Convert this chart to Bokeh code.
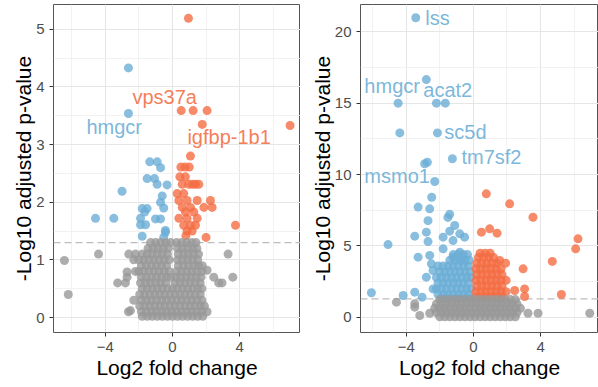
from bokeh.plotting import figure
from bokeh.layouts import row
from bokeh.models import Range1d, SingleIntervalTicker, Span
from bokeh.core.properties import value
from bokeh.embed import file_html
from bokeh.resources import INLINE

# ---------------- Left panel data ----------------
blue_L_x = [-2.62, -2.62, -1.35, -0.91, -0.71, -1.51, -1.07, -0.91, -0.32, -3.00, -0.61, -0.71, -1.80,
            -1.51, -0.52, -1.65, -4.58, -3.49, -1.90, -1.01, -0.71, -1.90, -1.60, -0.42, -1.80, -0.42, -0.52]
blue_L_y = [4.33, 3.54, 2.70, 2.70, 2.60, 2.41, 2.41, 2.31, 2.30, 2.19, 2.11, 2.00, 1.89,
            1.89, 1.90, 1.83, 1.72, 1.72, 1.72, 1.71, 1.71, 1.61, 1.61, 1.51, 1.41, 1.48, 1.39]

orange_L_x = [0.95, 0.52, 1.23, 2.06, 1.77, 7.00, 1.07, 0.50, 0.75, 1.00, 0.44, 0.77, 0.58, 0.97, 1.19,
              1.37, 1.57, 0.28, 0.67, 0.38, 0.87, 1.47, 2.26, 0.58, 1.07, 1.87, 2.36, 0.77, 1.27, 0.38,
              0.87, 1.47, 0.67, 1.07, 1.37, 3.75, 0.87, 1.17, 0.80, 2.00]
orange_L_y = [5.19, 3.59, 3.59, 3.59, 3.35, 3.33, 2.80, 2.61, 2.61, 2.61, 2.44, 2.44, 2.31, 2.31, 2.31,
              2.31, 2.31, 2.15, 2.15, 2.03, 2.03, 2.03, 2.03, 1.91, 1.91, 1.91, 1.91, 1.83, 1.83, 1.72,
              1.72, 1.72, 1.60, 1.60, 1.60, 1.60, 1.50, 1.50, 1.42, 1.39]

grey_L_out_x = [-6.43, -6.20, -4.40, -2.60, -2.20, -2.62, -3.26, -2.80, -2.70, -2.70, -2.30, -2.30, -2.20,
                3.31, 3.59, 2.75, 2.95, 2.46, 2.06, 1.77, 2.06, -2.50]
grey_L_out_y = [0.99, 0.40, 1.10, 1.10, 1.10, 0.10, 0.60, 0.60, 0.70, 0.79, 0.30, 1.00, 0.80,
                1.10, 0.70, 0.60, 0.60, 0.70, 0.82, 0.90, 0.10, 0.12]

# dense non-significant cloud, read row by row: (y, [x values])
grey_L_rows = [
    (1.30, [-1.30, -1.00, -0.70, -0.40, -0.10, 0.25, 0.55, 0.85, 1.15, 1.40]),
    (1.20, [-1.45, -1.15, -0.85, -0.55, -0.25, 0.30, 0.60, 0.90, 1.20, 1.45]),
    (1.10, [-1.80, -1.50, -1.20, -0.90, -0.60, -0.30, 0.35, 0.65, 0.95, 1.25, 1.55]),
    (1.00, [-2.00, -1.70, -1.40, -1.10, -0.80, -0.50, -0.20, 0.30, 0.60, 0.90, 1.20, 1.50]),
    (0.90, [-1.85, -1.55, -1.25, -0.95, -0.65, -0.35, 0.35, 0.65, 0.95, 1.25, 1.55]),
    (0.80, [-2.00, -1.70, -1.40, -1.10, -0.80, -0.50, -0.20, 0.25, 0.55, 0.85, 1.15, 1.45, 1.75]),
    (0.70, [-1.85, -1.55, -1.25, -0.95, -0.65, -0.35, -0.10, 0.20, 0.50, 0.80, 1.10, 1.40, 1.70]),
    (0.60, [-1.90, -1.60, -1.30, -1.00, -0.70, -0.40, 0.15, 0.45, 0.75, 1.05, 1.35, 1.65]),
    (0.50, [-1.80, -1.50, -1.20, -0.90, -0.60, -0.30, 0.00, 0.30, 0.60, 0.90, 1.20, 1.50, 1.75]),
    (0.40, [-1.95, -1.65, -1.35, -1.05, -0.75, -0.45, -0.15, 0.15, 0.45, 0.75, 1.05, 1.35, 1.65]),
    (0.30, [-1.85, -1.55, -1.25, -0.95, -0.65, -0.35, -0.05, 0.25, 0.55, 0.85, 1.15, 1.45, 1.75]),
    (0.20, [-1.95, -1.65, -1.35, -1.05, -0.75, -0.45, -0.15, 0.15, 0.45, 0.75, 1.05, 1.35, 1.65, 1.90]),
    (0.10, [-1.85, -1.55, -1.25, -0.95, -0.65, -0.35, -0.05, 0.25, 0.55, 0.85, 1.15, 1.45, 1.75]),
    (0.02, [-1.80, -1.50, -1.20, -0.90, -0.60, -0.30, 0.00, 0.30, 0.60, 0.90, 1.20, 1.50, 1.80]),
]

labels_L = ["vps37a", "hmgcr", "igfbp-1b1"]
labels_L_x = [-2.38, -5.12, 0.89]
labels_L_y = [3.82, 3.30, 3.13]
labels_L_col = ["#f46d43", "#6baed6", "#f46d43"]

# ---------------- Right panel data ----------------
blue_R_x = [-3.43, -2.80, -4.48, -2.20, -1.67, -4.38, -2.14, -1.25, -2.90, -2.74, -2.30, -2.48, -3.29,
            -2.60, -1.41, -1.52, -2.70, -1.11, -3.49, -2.80, -2.70, -5.08, -1.80, -1.41, -1.21, -0.81,
            -0.52, -1.80, -3.29, -2.60, -2.50, -0.81, -1.21, -0.71, -2.80, -2.40, -3.49, -4.18, -3.05,
            -6.07, -2.40]
blue_R_y = [20.96, 16.64, 14.99, 14.99, 14.99, 12.91, 12.91, 11.10, 10.75, 10.86, 9.51, 8.41, 7.72,
            7.60, 7.22, 7.00, 6.77, 6.43, 5.69, 5.97, 5.31, 5.10, 5.62, 6.04, 5.38, 5.85,
            5.62, 4.80, 4.22, 4.34, 3.75, 4.57, 4.22, 3.99, 2.82, 3.29, 1.77, 1.54, 1.42,
            1.73, 2.00]

blue_R_rows = [
    (4.40, [-1.20, -0.90, -0.60, -0.35]),
    (4.00, [-1.40, -1.10, -0.80, -0.50, -0.25]),
    (3.60, [-2.10, -1.80, -1.50, -1.20, -0.90, -0.60, -0.30]),
    (3.20, [-2.00, -1.70, -1.40, -1.10, -0.80, -0.50, -0.20]),
    (2.80, [-2.20, -1.90, -1.60, -1.30, -1.00, -0.70, -0.40, -0.15]),
    (2.40, [-2.10, -1.80, -1.50, -1.20, -0.90, -0.60, -0.30]),
    (2.00, [-2.20, -1.90, -1.60, -1.30, -1.00, -0.70, -0.40, -0.15]),
    (1.60, [-2.10, -1.80, -1.50, -1.20, -0.90, -0.60, -0.30]),
    (1.35, [-1.90, -1.60, -1.30, -1.00, -0.70, -0.40, -0.15]),
]

orange_R_x = [0.77, 2.16, 3.55, 0.48, 0.97, 1.41, 6.23, 6.09, 4.70, 2.96, 5.24, 3.05, 3.05, 2.46, 1.57, 1.92]
orange_R_y = [8.65, 7.95, 7.01, 5.97, 6.20, 5.90, 5.50, 4.80, 3.92, 3.40, 1.61, 2.00, 1.47, 1.89, 3.99, 3.80]

orange_R_rows = [
    (4.50, [0.40, 0.70, 1.00]),
    (4.20, [0.30, 0.60, 0.90, 1.20]),
    (3.80, [0.20, 0.50, 0.80, 1.10, 1.40]),
    (3.40, [0.15, 0.45, 0.75, 1.05, 1.35, 1.65]),
    (3.00, [0.20, 0.50, 0.80, 1.10, 1.40, 1.70]),
    (2.60, [0.15, 0.45, 0.75, 1.05, 1.35, 1.65, 1.95]),
    (2.20, [0.20, 0.50, 0.80, 1.10, 1.40, 1.70]),
    (1.80, [0.15, 0.45, 0.75, 1.05, 1.35, 1.65, 1.95]),
    (1.45, [0.20, 0.50, 0.80, 1.10, 1.40, 1.70]),
]

grey_R_out_x = [-4.58, -3.49, -3.49, -3.19, -2.60, 3.25, 3.85, 6.93]
grey_R_out_y = [1.07, 0.96, 0.72, 0.14, 0.30, 0.30, 0.30, 0.30]

grey_R_rows = [
    (1.25, [-2.0, -1.7, -1.4, -1.1, -0.8, -0.5, -0.2, 0.1, 0.4, 0.7, 1.0, 1.3, 1.6, 1.9, 2.2, 2.5]),
    (0.95, [-2.2, -1.9, -1.6, -1.3, -1.0, -0.7, -0.4, -0.1, 0.2, 0.5, 0.8, 1.1, 1.4, 1.7, 2.0, 2.3, 2.6]),
    (0.65, [-2.3, -2.0, -1.7, -1.4, -1.1, -0.8, -0.5, -0.2, 0.1, 0.4, 0.7, 1.0, 1.3, 1.6, 1.9, 2.2, 2.5, 2.8]),
    (0.35, [-2.2, -1.9, -1.6, -1.3, -1.0, -0.7, -0.4, -0.1, 0.2, 0.5, 0.8, 1.1, 1.4, 1.7, 2.0, 2.3, 2.6]),
    (0.05, [-2.0, -1.7, -1.4, -1.1, -0.8, -0.5, -0.2, 0.1, 0.4, 0.7, 1.0, 1.3, 1.6, 1.9, 2.2, 2.5]),
]

labels_R = ["lss", "hmgcr", "acat2", "sc5d", "tm7sf2", "msmo1"]
labels_R_x = [-2.86, -6.49, -2.98, -1.73, -0.71, -6.49]
labels_R_y = [20.95, 16.2, 15.9, 13.0, 11.2, 9.9]
labels_R_col = ["#6baed6"] * 6

threshold = 1.30  # -log10(0.05)

BLUE = "#6baed6"
ORANGE = "#f46d43"
GREY = "#999999"
FONT = "Liberation Sans"
HEIGHT = 387


def flatten(rows):
    xs, ys = [], []
    for yv, xl in rows:
        for xv in xl:
            xs.append(xv)
            ys.append(yv)
    return xs, ys


def make_fig(width, xr, yr, y_interval, border_left):
    p = figure(width=width, height=HEIGHT, x_range=Range1d(*xr), y_range=Range1d(*yr),
               output_backend="svg", toolbar_location=None,
               min_border_left=border_left, min_border_right=0, min_border_top=4,
               min_border_bottom=55, background_fill_color="white", border_fill_color="white")
    p.xaxis.ticker = SingleIntervalTicker(interval=4, num_minor_ticks=2)
    p.yaxis.ticker = SingleIntervalTicker(interval=y_interval, num_minor_ticks=2)
    p.xgrid.ticker = p.xaxis[0].ticker
    p.ygrid.ticker = p.yaxis[0].ticker
    for g in (p.xgrid[0], p.ygrid[0]):
        g.grid_line_color = "#e6e6e6"
        g.grid_line_width = 1.1
        g.minor_grid_line_color = "#efefef"
        g.minor_grid_line_width = 0.8
    for ax in (p.xaxis[0], p.yaxis[0]):
        ax.axis_line_color = None
        ax.major_tick_line_color = "#333333"
        ax.major_tick_out = 4
        ax.major_tick_in = 0
        ax.minor_tick_line_color = None
        ax.major_label_text_font = FONT
        ax.major_label_text_font_size = "15px"
        ax.major_label_text_color = "#4d4d4d"
        ax.axis_label_text_font = FONT
        ax.axis_label_text_font_size = "21px"
        ax.axis_label_text_font_style = "normal"
        ax.axis_label_text_color = "#000000"
    p.xaxis.major_label_standoff = 5
    p.xaxis.axis_label_standoff = 1
    p.yaxis.major_label_standoff = 5
    p.yaxis.axis_label_standoff = -2
    p.xaxis.axis_label = "Log2 fold change"
    p.yaxis.axis_label = "-Log10 adjusted p-value"
    p.outline_line_color = "#555555"
    p.outline_line_width = 1
    p.add_layout(Span(location=threshold, dimension="width", line_color="#bdbdbd",
                      line_dash="7 4", line_width=1.2, level="underlay"))
    return p


def draw(p, bx, by, ox, oy, gx, gy, labels, lx, ly, lc):
    p.scatter(bx, by, size=9, fill_color=BLUE, fill_alpha=0.8, line_color=None)
    p.scatter(ox, oy, size=9, fill_color=ORANGE, fill_alpha=0.8, line_color=None)
    p.scatter(gx, gy, size=9, fill_color=GREY, fill_alpha=0.8, line_color=None)
    p.text(x=lx, y=ly, text=labels, text_color=lc, text_alpha=0.9,
           text_font=value(FONT), text_font_size="20px",
           text_align="left", text_baseline="middle")


# left
gLx, gLy = flatten(grey_L_rows)
pL = make_fig(300, (-7.08, 7.62), (-0.26, 5.43), 1, 53)
draw(pL, blue_L_x, blue_L_y, orange_L_x, orange_L_y,
     grey_L_out_x + gLx, grey_L_out_y + gLy, labels_L, labels_L_x, labels_L_y, labels_L_col)

# right
bRx, bRy = flatten(blue_R_rows)
oRx, oRy = flatten(orange_R_rows)
gRx, gRy = flatten(grey_R_rows)
pR = make_fig(298, (-6.72, 7.45), (-1.05, 21.89), 5, 60)
draw(pR, blue_R_x + bRx, blue_R_y + bRy, orange_R_x + oRx, orange_R_y + oRy,
     grey_R_out_x + gRx, grey_R_out_y + gRy, labels_R, labels_R_x, labels_R_y, labels_R_col)

layout = row(pL, pR)
open("out.html", "w").write(file_html(layout, INLINE))
